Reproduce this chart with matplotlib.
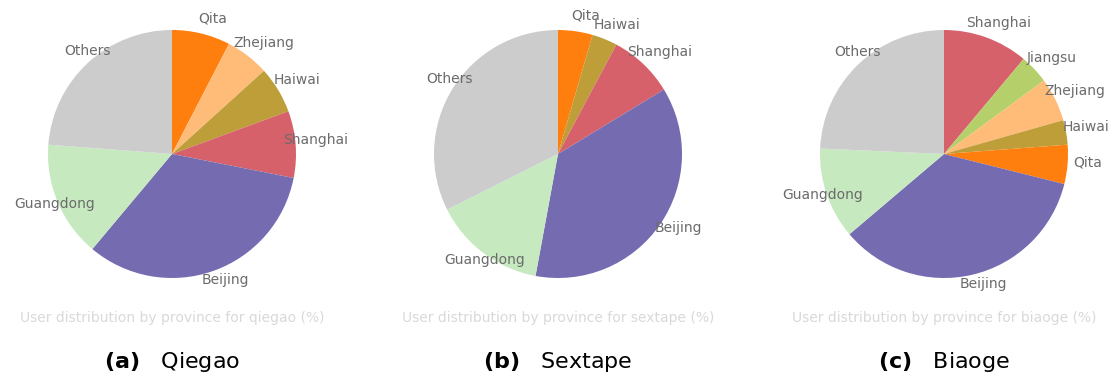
import matplotlib
matplotlib.use("Agg")
import matplotlib.pyplot as plt

plt.rcParams["font.family"] = "DejaVu Sans"
plt.rcParams["mathtext.fontset"] = "dejavusans"

# user share (%) per province, in drawing order (clockwise from 12 o'clock)
qiegao_labels = ["Qita", "Zhejiang", "Haiwai", "Shanghai", "Beijing", "Guangdong", "Others"]
qiegao_values = [7.6, 5.7, 6.1, 8.7, 33.0, 15.1, 23.8]

sextape_labels = ["Qita", "Haiwai", "Shanghai", "Beijing", "Guangdong", "Others"]
sextape_values = [4.5, 3.3, 8.5, 36.6, 14.7, 32.4]

biaoge_labels = ["Shanghai", "Jiangsu", "Zhejiang", "Haiwai", "Qita", "Beijing", "Guangdong", "Others"]
biaoge_values = [11.1, 3.8, 5.7, 3.2, 5.1, 34.9, 11.9, 24.3]

names = ["qiegao", "sextape", "biaoge"]
captions = ["(a)", "(b)", "(c)"]
titles = ["Qiegao", "Sextape", "Biaoge"]

colors = {
    "Qita": "#ff7f0e",
    "Zhejiang": "#ffbb78",
    "Haiwai": "#bd9e39",
    "Shanghai": "#d6616b",
    "Beijing": "#756bb1",
    "Guangdong": "#c7e9c0",
    "Others": "#cccccc",
    "Jiangsu": "#b5cf6b",
}

W, H = 1113, 383
fig = plt.figure(figsize=(W / 100, H / 100), dpi=100)

centers_x = [172, 558, 944]
center_y = 154
radius = 124
half = 1.5 * radius

data = [(qiegao_labels, qiegao_values),
        (sextape_labels, sextape_values),
        (biaoge_labels, biaoge_values)]

for i, (labels, values) in enumerate(data):
    cx = centers_x[i]
    ax = fig.add_axes([(cx - half) / W, (H - center_y - half) / H,
                       2 * half / W, 2 * half / H])
    wedges, texts = ax.pie(values, labels=labels, startangle=90, counterclock=False,
                           colors=[colors[l] for l in labels], labeldistance=1.1,
                           wedgeprops=dict(linewidth=0),
                           textprops=dict(ha="center", va="center", color="#6b6b6b",
                                          fontsize=10))
    # nudge labels a little right/up
    for t in texts:
        x, y = t.get_position()
        t.set_position((x + 0.065, y + 0.025))
    ax.set_xlim(-1.5, 1.5)
    ax.set_ylim(-1.5, 1.5)
    ax.axis("off")

    fig.text(cx / W, 1 - 318 / H,
             "User distribution by province for %s (%%)" % names[i],
             ha="center", va="center", fontsize=10, color="#d9d9d9")
    fig.text(cx / W, 1 - 362 / H,
             r"$\bf{%s}$   %s" % (captions[i], titles[i]),
             ha="center", va="center", fontsize=16, color="black")

fig.savefig("out.png", dpi=100)
